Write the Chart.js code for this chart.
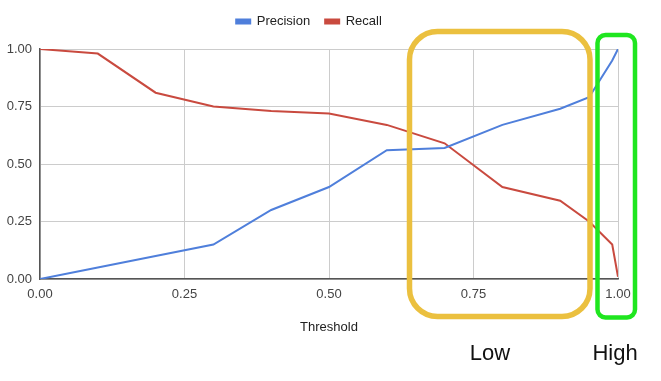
<!DOCTYPE html>
<html>
<head>
<meta charset="utf-8">
<script src="https://cdn.jsdelivr.net/npm/chart.js@4/dist/chart.umd.min.js"></script>
<style>
  html, body { margin: 0; padding: 0; background: #ffffff; }
  #wrap { width: 661px; height: 381px; position: relative; }
</style>
</head>
<body>
<div id="wrap"><canvas id="c" width="661" height="381"></canvas></div>
<script>
// ---- data ----
const thresholds = [0, 0.1, 0.2, 0.3, 0.4, 0.5, 0.6, 0.7, 0.8, 0.9, 0.95, 0.99, 1.0];
const precision  = [0, 0.05, 0.10, 0.15, 0.30, 0.40, 0.56, 0.57, 0.67, 0.74, 0.79, 0.95, 1.0];
const recall     = [1.0, 0.98, 0.81, 0.75, 0.73, 0.72, 0.67, 0.59, 0.40, 0.34, 0.25, 0.15, 0.01];
const seriesNames = ['Precision', 'Recall'];
const axisTitle = 'Threshold';
const tickValues = [0, 0.25, 0.5, 0.75, 1.0];
const regionLabels = ['Low', 'High'];

const FONT = "'Liberation Sans', Arial, sans-serif";

const toPts = (ys) => thresholds.map((t, i) => ({ x: t, y: ys[i] }));

const highlightPlugin = {
  id: 'highlight',
  beforeInit(chart) {
    const lg = chart.legend;
    if (lg) {
      const orig = lg.fit;
      lg.fit = function () { orig.call(this); this.height = 49; };
    }
  },
  afterDraw(chart) {
    const ctx = chart.ctx;
    const rr = (x0, y0, x1, y1, r) => {
      ctx.beginPath();
      ctx.moveTo(x0 + r, y0);
      ctx.arcTo(x1, y0, x1, y1, r);
      ctx.arcTo(x1, y1, x0, y1, r);
      ctx.arcTo(x0, y1, x0, y0, r);
      ctx.arcTo(x0, y0, x1, y0, r);
      ctx.closePath();
    };
    ctx.save();
    ctx.strokeStyle = '#ebc03f';
    ctx.lineWidth = 5.5;
    rr(409.5, 31.5, 590, 316.5, 28);
    ctx.stroke();
    ctx.strokeStyle = '#1fe61f';
    ctx.lineWidth = 4.5;
    rr(597.5, 35, 635, 317.5, 8);
    ctx.stroke();
    ctx.fillStyle = '#111';
    ctx.font = '22px ' + FONT;
    ctx.textAlign = 'center';
    ctx.textBaseline = 'middle';
    ctx.fillText(regionLabels[0], 490, 354);
    ctx.fillText(regionLabels[1], 615, 354);
    ctx.restore();
  }
};

new Chart(document.getElementById('c'), {
  type: 'line',
  data: {
    datasets: [
      { label: seriesNames[0], data: toPts(precision), borderColor: '#4f7fdb', backgroundColor: '#4f7fdb', borderWidth: 2, pointRadius: 0, tension: 0 },
      { label: seriesNames[1], data: toPts(recall), borderColor: '#c94a3f', backgroundColor: '#c94a3f', borderWidth: 2, pointRadius: 0, tension: 0 }
    ]
  },
  options: {
    responsive: false,
    animation: false,
    devicePixelRatio: 1,
    layout: { padding: { top: 0, left: 0, right: 43, bottom: 42 } },
    plugins: {
      tooltip: { enabled: false },
      legend: {
        position: 'top',
        labels: {
          boxWidth: 14, boxHeight: 4, padding: 15,
          color: '#222', font: { family: FONT, size: 13 }
        }
      }
    },
    scales: {
      x: {
        type: 'linear', min: 0, max: 1,
        afterFit: (s) => { s.height = 60; },
        afterBuildTicks: (s) => { s.ticks = tickValues.map(v => ({ value: v })); },
        ticks: { padding: 8, color: '#444', font: { family: FONT, size: 13 }, callback: (v) => Number(v).toFixed(2), maxRotation: 0 },
        grid: { color: '#cccccc', drawTicks: false },
        border: { color: '#555', width: 1.5 },
        title: { display: true, text: axisTitle, color: '#222', font: { family: FONT, size: 13 }, padding: { top: 0, bottom: 4 } }
      },
      y: {
        min: 0, max: 1,
        afterFit: (s) => { s.width = 40; },
        afterBuildTicks: (s) => { s.ticks = tickValues.map(v => ({ value: v })); },
        ticks: { padding: 8, color: '#444', font: { family: FONT, size: 13 }, callback: (v) => Number(v).toFixed(2) },
        grid: { color: '#cccccc', drawTicks: false },
        border: { color: '#555', width: 1.5 }
      }
    }
  },
  plugins: [highlightPlugin]
});
</script>
</body>
</html>
